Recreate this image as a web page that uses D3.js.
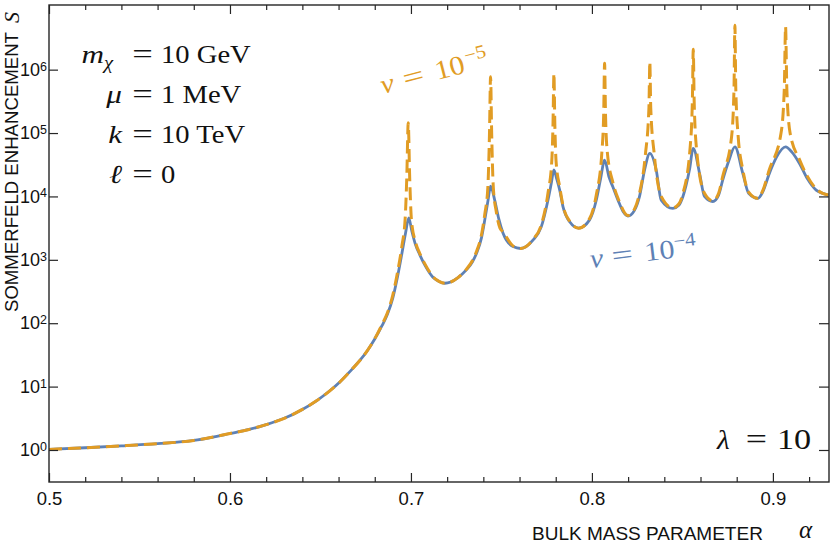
<!DOCTYPE html>
<html><head><meta charset="utf-8">
<script src="https://cdn.jsdelivr.net/npm/d3@7"></script>
<style>body{margin:0;background:#fff} svg{display:block}</style>
</head><body><svg id="c" width="830" height="548"></svg>
<script>
// ---- data (alpha = bulk mass parameter, S = Sommerfeld enhancement) ----
const alphaBlue = [0.50,0.52,0.54,0.56,0.58,0.59,0.60,0.61,0.62,0.63,0.64,0.648,0.655,0.661,0.667,0.672,0.676,0.680,0.684,0.687,0.690,0.6925,0.695,0.697,0.6988,0.7005,0.7025,0.7049,0.708,0.712,0.7155,0.7187,0.722,0.726,0.7306,0.734,0.7362,0.739,0.7408,0.7426,0.744,0.7463,0.7485,0.7509,0.7564,0.7606,0.7674,0.772,0.7757,0.7775,0.779,0.7805,0.7822,0.784,0.7877,0.7927,0.7987,0.8024,0.8048,0.807,0.8095,0.8116,0.815,0.8175,0.8199,0.8235,0.8263,0.8291,0.832,0.8355,0.8383,0.8447,0.848,0.8503,0.8539,0.856,0.8595,0.8622,0.8668,0.870,0.8723,0.8755,0.879,0.8834,0.8866,0.8917,0.8945,0.898,0.902,0.907,0.9105,0.9147,0.919,0.9239,0.9275,0.9307];
const sBlue = [1.02,1.084,1.161,1.259,1.413,1.585,1.82,2.089,2.512,3.162,4.365,6.026,8.511,12.02,18.2,26.3,37.2,56.2,91.2,138,251,525,1259,2630,4570,2820,1740,1200,794,537,457,427,447,525,692,933,1260,2240,4270,8710,14500,8710,4470,2630,1620,1510,2040,3310,8710,15800,26300,19100,12600,6920,3980,3160,4270,8710,19100,37200,19950,14100,7940,5620,4900,6030,10000,26300,47900,26300,8710,6460,7240,10000,26300,57500,22900,10000,8320,10500,18200,35500,60300,22900,11200,9330,12000,22900,41700,60300,50100,33100,19100,12600,11200,10500];

const alphaOrange = [0.50,0.52,0.54,0.56,0.58,0.59,0.60,0.61,0.62,0.63,0.64,0.648,0.655,0.661,0.667,0.672,0.676,0.680,0.684,0.687,0.690,0.6925,0.695,0.6968,0.6977,0.6985,0.6993,0.7003,0.7025,0.7049,0.708,0.712,0.7155,0.7187,0.722,0.726,0.7306,0.734,0.7362,0.739,0.7408,0.7425,0.7434,0.744,0.7446,0.7455,0.7472,0.7492,0.7509,0.7564,0.7606,0.7674,0.772,0.7757,0.7778,0.7785,0.779,0.7795,0.7802,0.7822,0.784,0.7877,0.7927,0.7987,0.8024,0.8055,0.8065,0.807,0.8075,0.8085,0.8116,0.815,0.8199,0.8235,0.8263,0.8295,0.8315,0.832,0.8325,0.8345,0.8383,0.8447,0.848,0.8503,0.8542,0.8555,0.856,0.8565,0.8578,0.8622,0.8668,0.870,0.8723,0.8772,0.8785,0.879,0.8795,0.8808,0.8834,0.8866,0.8917,0.8945,0.898,0.9045,0.9063,0.907,0.9077,0.9095,0.9147,0.919,0.9239,0.9275,0.9307];
const sOrange = [1.02,1.084,1.161,1.259,1.413,1.585,1.82,2.089,2.512,3.162,4.365,6.026,8.511,12.02,18.2,26.3,37.2,57,95,146,280,620,1650,4470,20000,145000,20000,4170,1910,1260,832,550,457,427,447,525,708,977,1350,2510,5250,14100,100000,776000,100000,14100,5620,3160,2750,1660,1510,2090,3550,11200,35500,141000,871000,141000,35500,14100,7240,4070,3160,4470,10500,50100,200000,1260000,200000,50100,16600,8510,5010,6310,11200,44700,251000,1320000,251000,44700,10000,6610,7590,11200,56200,316000,2090000,316000,56200,11200,8510,11200,20900,89100,501000,5010000,501000,89100,26300,11700,9330,12600,26300,100000,501000,4790000,501000,100000,38000,20900,13200,11200,10500];

const xMajorTicks = [0.5, 0.6, 0.7, 0.8, 0.9];
const xTickLabels = ["0.5", "0.6", "0.7", "0.8", "0.9"];
const xMinorTicks = [0.52,0.54,0.56,0.58,0.62,0.64,0.66,0.68,0.72,0.74,0.76,0.78,0.82,0.84,0.86,0.88,0.92];
const yTickValues = [1, 10, 100, 1000, 1e4, 1e5, 1e6];
const yTickExponents = ["0", "1", "2", "3", "4", "5", "6"];

const paramLhs = ["m", "μ", "k", "ℓ"];
const paramLhsSub = ["χ", "", "", ""];
const paramRhs = ["10 GeV", "1 MeV", "10 TeV", "0"];

// ---- drawing ----
const BLUE = "#5E81B5", ORANGE = "#E19C24";
const svg = d3.select("#c");
const L = 49, R = 829, T = 5, B = 482;
const x = d3.scaleLinear().domain([0.5, 0.931]).range([L, R]);
const y = d3.scaleLog().domain([0.3126, 1.047e7]).range([B, T]);

svg.append("defs").append("clipPath").attr("id", "clip")
  .append("rect").attr("x", L).attr("y", T).attr("width", R - L).attr("height", B - T);

const line = d3.line().x(d => x(d[0])).y(d => y(d[1])).curve(d3.curveMonotoneX);
const blueData = alphaBlue.map((a, i) => [a, sBlue[i]]);
const orangeData = alphaOrange.map((a, i) => [a, sOrange[i]]);

const plot = svg.append("g").attr("clip-path", "url(#clip)");
plot.append("path").datum(blueData).attr("d", line)
  .attr("fill", "none").attr("stroke", BLUE).attr("stroke-width", 2.8).attr("stroke-linejoin", "round");
plot.append("path").datum(orangeData).attr("d", line)
  .attr("fill", "none").attr("stroke", ORANGE).attr("stroke-width", 3).attr("stroke-dasharray", "13,6");

const SANS = "'Liberation Sans', Arial, Helvetica, sans-serif";
const SERIF = "'Liberation Serif', 'Times New Roman', serif";
const AX = "#262626";

function styleAxis(g) {
  g.select(".domain").remove();
  g.selectAll(".tick line").attr("stroke", AX).attr("stroke-width", 1.2);
  g.selectAll(".tick text").attr("fill", "#111").style("font-family", SANS);
}

// bottom
svg.append("g").attr("transform", `translate(0,${B})`)
  .call(d3.axisBottom(x).tickValues(xMinorTicks).tickSize(-5).tickFormat("")).call(styleAxis);
svg.append("g").attr("transform", `translate(0,${B})`)
  .call(d3.axisBottom(x).tickValues(xMajorTicks).tickSize(-9).tickPadding(10)
    .tickFormat((d, i) => xTickLabels[i])).call(styleAxis)
  .selectAll(".tick text").style("font-size", "18.5px");
// top
svg.append("g").attr("transform", `translate(0,${T})`)
  .call(d3.axisTop(x).tickValues(xMinorTicks).tickSize(-5).tickFormat("")).call(styleAxis);
svg.append("g").attr("transform", `translate(0,${T})`)
  .call(d3.axisTop(x).tickValues(xMajorTicks).tickSize(-9).tickFormat("")).call(styleAxis);
// left
const gl = svg.append("g").attr("transform", `translate(${L},0)`)
  .call(d3.axisLeft(y).tickValues(yTickValues).tickSize(-9).tickPadding(2).tickFormat(() => "")).call(styleAxis);
gl.selectAll(".tick text").each(function(d, i) {
  const t = d3.select(this).style("font-size", "18px");
  t.append("tspan").text("10");
  t.append("tspan").attr("dy", "-0.42em").style("font-size", "12.5px").text(yTickExponents[i]);
});
// right
svg.append("g").attr("transform", `translate(${R},0)`)
  .call(d3.axisRight(y).tickValues(yTickValues).tickSize(-10).tickFormat("")).call(styleAxis);

// frame
svg.append("rect").attr("x", L).attr("y", T).attr("width", R - L).attr("height", B - T)
  .attr("fill", "none").attr("stroke", AX).attr("stroke-width", 1.4);

// axis titles
svg.append("text").attr("x", 532).attr("y", 540).style("font-family", SANS).style("font-size", "19px")
  .attr("fill", "#111").text("BULK MASS PARAMETER");
svg.append("text").attr("x", 799).attr("y", 538).style("font-family", SERIF).style("font-size", "25px")
  .style("font-style", "italic").attr("fill", "#111").text("α");
svg.append("text").attr("transform", "translate(17.5,312) rotate(-90)").style("font-family", SANS)
  .style("font-size", "18.6px").attr("fill", "#111").text("SOMMERFELD ENHANCEMENT");
svg.append("text").attr("transform", "translate(19,23) rotate(-90)").style("font-family", SERIF)
  .style("font-size", "22px").style("font-style", "italic").attr("fill", "#111").text("S");

// serif text helper with horizontal stretch (mimics the wide TeX-style face)
function stext(parent, tx, ty, size, txt, opts = {}) {
  const g = parent.append("g").attr("transform", `translate(${tx},${ty}) scale(${opts.sx || 1.15},1)`);
  const t = g.append("text").attr("text-anchor", opts.anchor || "start")
    .style("font-family", SERIF).style("font-size", size + "px")
    .attr("fill", opts.color || "#111");
  if (opts.italic) t.style("font-style", "italic");
  t.text(txt);
  return t;
}

// parameter block
const baselines = [63, 103, 142.5, 182.5];
paramLhs.forEach((lhs, i) => {
  if (paramLhsSub[i]) {
    stext(svg, 104, baselines[i], 26, lhs, {anchor: "end", italic: true, sx: 1.2});
    stext(svg, 104, baselines[i] + 6, 18, paramLhsSub[i], {italic: true, sx: 1.15});
  } else {
    stext(svg, 122, baselines[i], 26, lhs, {anchor: "end", italic: true, sx: 1.2});
  }
  stext(svg, 142.5, baselines[i], 27, "=", {anchor: "middle", sx: 1.35});
  stext(svg, 161, baselines[i], 26, paramRhs[i], {sx: 1.1});
});

// lambda
stext(svg, 717, 449, 28, "λ", {italic: true, sx: 1.05});
stext(svg, 756.5, 449, 29, "=", {anchor: "middle", sx: 1.3});
stext(svg, 777, 449, 29, "10", {sx: 1.18});

// curve labels
function vLabel(tx, ty, rot, color, exp, pos) {
  const g = svg.append("g").attr("transform", `translate(${tx},${ty}) rotate(${rot})`);
  stext(g, pos[0], 0, 27, "v", {italic: true, color: color, sx: 1.1});
  stext(g, pos[1], 0, 28, "=", {color: color, sx: 1.35});
  stext(g, pos[2], 0, 27, "10", {color: color, sx: 1.12});
  stext(g, pos[3], -10, 19, exp, {color: color, sx: 1.1});
}
vLabel(383, 94, -14.5, ORANGE, "−5", [0, 23, 56, 88]);
vLabel(591, 268, -7, BLUE, "−4", [0, 22, 55, 85]);
</script></body></html>
